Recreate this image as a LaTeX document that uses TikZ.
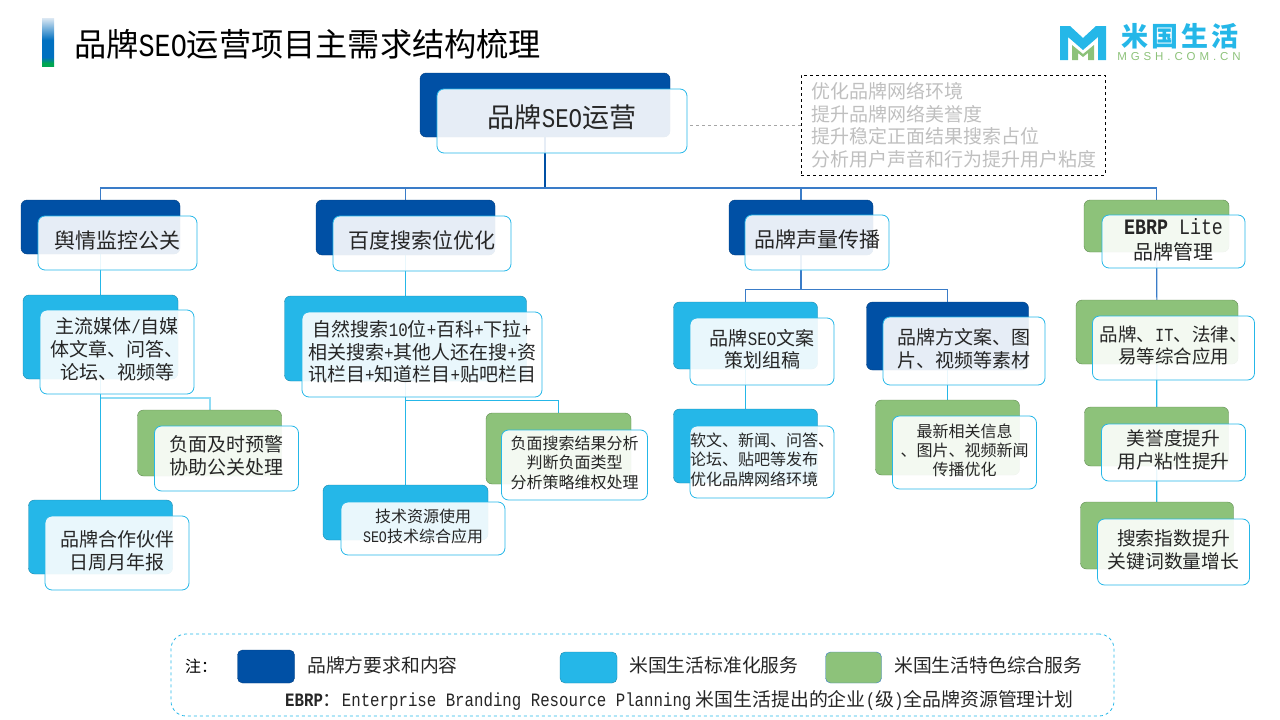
\documentclass[tikz,border=0pt]{standalone}
\usepackage{fontspec}
\usepackage{xcolor}
\usetikzlibrary{positioning, backgrounds}
\setmainfont{Noto Sans CJK SC}
\newfontfamily\latfont[FakeStretch=0.833]{Liberation Mono}
\newfontfamily\logofont[LetterSpace=34]{Liberation Sans}
\newfontfamily\logocn[LetterSpace=12]{Noto Sans CJK SC}
\newcommand{\lat}[1]{{\latfont #1}}
\definecolor{brandblue}{HTML}{0050A5}
\definecolor{brandedge}{HTML}{003F82}
\definecolor{stdcyan}{HTML}{25B7E8}
\definecolor{stdedge}{HTML}{1A87AB}
\definecolor{extgreen}{HTML}{8DC27A}
\definecolor{extedge}{HTML}{5F8A50}
\definecolor{inktext}{HTML}{262626}
\definecolor{notegray}{HTML}{BFBFBF}
\definecolor{buslink}{HTML}{3A7CC8}
\definecolor{linklight}{HTML}{8FDCF5}
\definecolor{bartop}{HTML}{DCE8F3}
\definecolor{barblue}{HTML}{0070C0}
\definecolor{bargreen}{HTML}{00A651}
\pgfdeclareverticalshading{titlebar}{100bp}{color(0bp)=(bargreen); color(28bp)=(bargreen); color(34bp)=(barblue); color(52bp)=(barblue); color(75bp)=(bartop); color(100bp)=(bartop)}
\tikzset{sz/.style 2 args={minimum width=#1pt,minimum height=#2pt,inner sep=0pt}}
\tikzstyle{backd}=[draw=brandedge,fill=brandblue,rounded corners=6pt]
\tikzstyle{backc}=[draw=stdedge,fill=stdcyan,rounded corners=6pt]
\tikzstyle{backg}=[draw=extedge,fill=extgreen,rounded corners=6pt]
\tikzstyle{front}=[draw=stdcyan,thick,fill=white,fill opacity=.9,text opacity=1,rounded corners=7pt,text=inktext]
\tikzstyle{trunk}=[draw=brandblue,line width=1.5pt]
\tikzstyle{bus}=[draw=buslink,line width=1.2pt]
\tikzstyle{link}=[draw=stdcyan,line width=1.3pt]
\tikzstyle{swatch}=[rounded corners=5pt,inner sep=0pt]
\newcommand{\fs}[2]{\fontsize{#1}{#2}\selectfont}
\newcommand{\cardtext}[2][c]{\begin{tabular}{@{}#1@{}}#2\end{tabular}}

\begin{document}
\begin{tikzpicture}[x=1pt,y=-1pt]
    \useasboundingbox (0,0) rectangle (1280,720);
    % title
    \node[shading=titlebar,sz={12}{48}] (bar) at (48,42) {};
    \node[anchor=west,inner sep=0pt,font=\fs{32.2}{36}] (title) at (74,44) {品牌\lat{SEO}运营项目主需求结构梳理};
    % logo
    \fill[stdcyan] (1060,26) -- (1070,26) -- (1083,38) -- (1096,26) -- (1106,26) -- (1106,60) -- (1098,60) -- (1098,37) -- (1083,50) -- (1068,37) -- (1068,60) -- (1060,60) -- cycle;
    \fill[extgreen] (1072,60) -- (1072,45) -- (1083,54) -- (1094,45) -- (1094,60) -- (1088,60) -- (1088,53) -- (1083,57) -- (1078,53) -- (1078,60) -- cycle;
    \node[inner sep=0pt,text=stdcyan,font=\fs{27}{30}\logocn\bfseries] (logocn) at (1180,36) {米国生活};
    \node[inner sep=0pt,text=extgreen,font=\fs{11.5}{13}\logofont] (logoen) at (1179,57) {MGSH.COM.CN};

    % root
    \node[backd,sz={250}{64}] (top) at (545,105) {};
    \node[front,sz={250}{64},font=\fs{27}{30}] (topf) at (562,121) {\cardtext{品牌\lat{SEO}运营}};
    \node[draw=black,dashed,thick,sz={304}{100},text=notegray,font=\fs{19}{22.5},align=left] (note) at (953,125)
        {\hspace*{1pt}优化品牌网络环境\\\hspace*{1pt}提升品牌网络美誉度\\\hspace*{1pt}提升稳定正面结果搜索占位\\\hspace*{1pt}分析用户声音和行为提升用户粘度};

    % first row
    \node[backd,sz={159}{54}] (a1) at (100.5,227) {};
    \node[front,sz={159}{54},font=\fs{21}{24}] (a1f) at (117.5,243) {\cardtext{舆情监控公关}};
    \node[backd,sz={179}{55}] (a2) at (405.5,227.5) {};
    \node[front,sz={178}{55},font=\fs{21}{24}] (a2f) at (422,243.5) {\cardtext{百度搜索位优化}};
    \node[backd,sz={144}{55}] (a3) at (801,227.5) {};
    \node[front,sz={144}{55},font=\fs{21}{24}] (a3f) at (817,242.5) {\cardtext{品牌声量传播}};
    \node[backg,sz={145}{52}] (a4) at (1156.5,226) {};
    \node[front,sz={143}{53},font=\fs{20}{25}] (a4f) at (1173.5,241.5) {\cardtext{{\fs{22}{25}\lat{\textbf{EBRP} Lite}}\\品牌管理}};

    % left column
    \node[backc,sz={155}{84}] (b1) at (100.5,337) {};
    \node[front,sz={154}{84},font=\fs{19}{22.5}] (b1f) at (117,352) {\cardtext{主流媒体\lat{/}自媒\\体文章、问答、\\论坛、视频等}};
    \node[backg,sz={144}{66}] (c1) at (209.5,443) {};
    \node[front,sz={144}{65},font=\fs{19}{22}] (c1f) at (226.5,458.5) {\cardtext{负面及时预警\\协助公关处理}};
    \node[backc,sz={144}{74}] (c2) at (100.5,537) {};
    \node[front,sz={144}{74},font=\fs{19}{22}] (c2f) at (117,553) {\cardtext{品牌合作伙伴\\日周月年报}};

    % second column
    \node[backc,sz={242}{85}] (b2) at (405.5,338.5) {};
    \node[front,sz={240}{85},font=\fs{19}{22.5}] (b2f) at (422,354.5) {\cardtext{自然搜索\lat{10}位\lat{+}百科\lat{+}下拉\lat{+}\\相关搜索\lat{+}其他人还在搜\lat{+}资\\讯栏目\lat{+}知道栏目\lat{+}贴吧栏目}};
    \node[backc,sz={165}{55}] (c3) at (405.5,512.5) {};
    \node[front,sz={164}{53},font=\fs{16}{19}] (c3f) at (423,528.5) {\cardtext{技术资源使用\\\lat{SEO}技术综合应用}};
    \node[backg,sz={145}{71}] (c4) at (558.5,448.5) {};
    \node[front,sz={146}{70},font=\fs{16}{19}] (c4f) at (574.5,465) {\cardtext{负面搜索结果分析\\判断负面类型\\分析策略维权处理}};

    % third column
    \node[backc,sz={144}{67}] (d1) at (745.5,335.5) {};
    \node[front,sz={144}{67},font=\fs{19}{21}] (d1f) at (762,351.5) {\cardtext{品牌\lat{SEO}文案\\策划组稿}};
    \node[backd,sz={162}{68}] (d2) at (947.5,336) {};
    \node[front,sz={162}{68},font=\fs{19}{21}] (d2f) at (964,351) {\cardtext{品牌方文案、图\\片、视频等素材}};
    \node[backc,sz={144}{74}] (e1) at (745.5,446) {};
    \node[front,sz={144}{72},font=\fs{16}{19}] (e1f) at (762,462) {\cardtext[l]{软文、新闻、问答、\\论坛、贴吧等发布\\优化品牌网络环境}};
    \node[backg,sz={144}{75}] (e2) at (947.5,437.5) {};
    \node[front,sz={144}{73},font=\fs{16}{19}] (e2f) at (964.5,452.5) {\cardtext{最新相关信息\\、图片、视频新闻\\传播优化}};

    % fourth column
    \node[backg,sz={162}{64}] (f1) at (1157,332) {};
    \node[front,sz={162}{64},font=\fs{18.5}{22}] (f1f) at (1173.5,348) {\cardtext{品牌、\lat{IT}、法律、\\易等综合应用}};
    \node[backg,sz={144}{59}] (f2) at (1156.5,436.5) {};
    \node[front,sz={144}{57},font=\fs{18.7}{22}] (f2f) at (1173.5,452.5) {\cardtext{美誉度提升\\用户粘性提升}};
    \node[backg,sz={153}{67}] (f3) at (1157,535.5) {};
    \node[front,sz={152}{66},font=\fs{18.8}{23}] (f3f) at (1173.5,552) {\cardtext{搜索指数提升\\关键词数量增长}};

    % legend
    \node[draw=stdcyan,dashed,thick,rounded corners=15pt,sz={943}{82}] (legend) at (642.5,675) {};
    \node[anchor=west,inner sep=0pt,font=\fs{16}{18}] (noteh) at (185,666) {注：};
    \node[swatch,draw=brandedge,fill=brandblue,sz={57}{33}] (swa) at (266,666.5) {};
    \node[anchor=west,inner sep=0pt,text=inktext,font=\fs{18.8}{22}] (lega) at (307,665) {品牌方要求和内容};
    \node[swatch,draw=stdedge,fill=stdcyan,sz={57}{31}] (swb) at (588.5,667.5) {};
    \node[anchor=west,inner sep=0pt,text=inktext,font=\fs{18.8}{22}] (legb) at (629,665) {米国生活标准化服务};
    \node[swatch,draw=buslink,fill=extgreen,sz={56}{31}] (swc) at (853.5,667.5) {};
    \node[anchor=west,inner sep=0pt,text=inktext,font=\fs{18.8}{22}] (legc) at (894,665) {米国生活特色综合服务};
    \node[anchor=west,inner sep=0pt,text=inktext,font=\fs{18.9}{22}] (legd) at (285,700) {\lat{\textbf{EBRP}}：\lat{Enterprise Branding Resource Planning} 米国生活提出的企业\lat{(}级\lat{)}全品牌资源管理计划};

    \coordinate (busa) at (0,188);
    \coordinate (busb) at (0,289.5);
    \coordinate (busc) at (0,397.5);
    \coordinate (busd) at (0,400.5);

    \begin{scope}[on background layer]
    \draw[trunk] (top.south) -- (top.south |- busa);
    \draw[bus] (a1.north) |- (top.south |- busa);
    \draw[bus] (a2.north) |- (top.south |- busa);
    \draw[bus] (a3.north) |- (top.south |- busa);
    \draw[bus] (a4.north) |- (top.south |- busa);
    \draw[link] (a1) -- (b1);
    \draw[link] (b1) -- (c2);
    \draw[linklight,line width=2pt] (c1.north) |- (b1.south |- busc);
    \draw[link] (a2) -- (b2);
    \draw[link] (b2) -- (c3);
    \draw[link] (c4.north) |- (b2.south |- busd);
    \draw[bus] (a3.south) -- (a3.south |- busb);
    \draw[bus] (d1.north) |- (a3.south |- busb);
    \draw[bus] (d2.north) |- (a3.south |- busb);
    \draw[link] (d1) -- (e1);
    \draw[link] (d2) -- (e2);
    \draw[bus] (a4) -- (f1);
    \draw[link] (f1) -- (f2);
    \draw[link] (f2) -- (f3);
    \draw[gray!70,dashed,shorten >=3pt] (note.west) -- (note.west -| topf.east);
    \end{scope}
\end{tikzpicture}
\end{document}
